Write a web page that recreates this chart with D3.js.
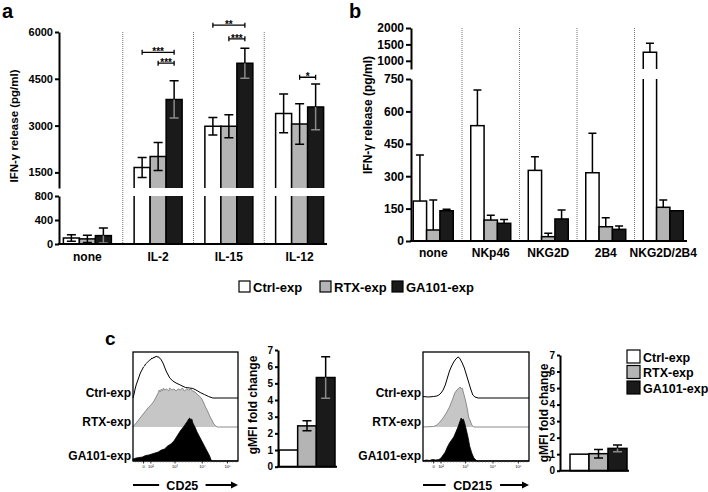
<!DOCTYPE html>
<html><head><meta charset="utf-8">
<script src="https://cdn.jsdelivr.net/npm/d3@7"></script>
<style>
body{margin:0;background:#fff}
svg{display:block;font-family:"Liberation Sans",Arial,sans-serif;font-weight:bold}
</style></head><body><svg id="c" width="708" height="492"></svg>
<script>
// ---------- DATA ----------
const seriesNames = ["Ctrl-exp","RTX-exp","GA101-exp"];
const seriesFill = ["#ffffff","#b4b4b4","#1a1a1a"];

// panel a
const catsA = ["none","IL-2","IL-15","IL-12"];
const ctrlA = [100,1660,2980,3390];
const ctrlAErr = [55,320,280,620];
const rtxA = [85,2010,2980,3050];
const rtxAErr = [60,450,370,650];
const gaA = [140,3840,5000,3600];
const gaAErr = [125,600,480,730];
const ticksALow = [0,400,800];
const ticksAUp = [1500,3000,4500,6000];
const sigA = [
  {cat:"IL-2", from:0, to:2, value:5350, label:"***"},
  {cat:"IL-2", from:1, to:2, value:5000, label:"***"},
  {cat:"IL-15", from:0, to:2, value:6220, label:"**"},
  {cat:"IL-15", from:1, to:2, value:5780, label:"***"},
  {cat:"IL-12", from:1, to:2, value:4550, label:"*"}
];

// panel b
const catsB = ["none","NKp46","NKG2D","2B4","NKG2D/2B4"];
const ctrlB = [185,534,327,316,1260];
const ctrlBErr = [213,165,63,183,275];
const rtxB = [51,97,20,66,156];
const rtxBErr = [139,22,16,42,34];
const gaB = [140,82,102,54,140];
const gaBErr = [7,18,41,15,0];
const ticksBLow = [0,150,300,450,600,750];
const ticksBUp = [1000,1500,2000];

// panel c : histograms [channel %, count]
const cd25Ctrl = [[0,0],[1,4],[2,9],[3,13],[4,16],[5,19],[6,22],[7,25],[8,27],[9,29],[10,31],[11,32],[12,34],[13,35],[14,36],[15,37],[16,38],[17,38.5],[18,40],[19,39.5],[20,41],[21,40.5],[22,42],[23,41],[24,41.5],[25,40],[26,39.5],[27,38],[28,36],[29,34],[30,31],[32,26],[35,20],[38,17],[41,15],[45,13],[50,10.5],[54,10],[57,9.5],[60,8],[64,5.5],[68,3.5],[72,1.5],[76,0],[100,0]];
const cd25Rtx = [[0,0],[3,4],[6,8],[9,12],[12,16],[15,20],[18,23],[20,26],[22,30],[24,34],[25,37],[26,35],[27,38],[28,36],[29,39],[30,37],[32,38],[34,36],[35,39],[37,37],[39,38],[41,36],[43,38],[45,37],[47,39],[49,36],[51,38],[53,37],[55,38],[57,36],[59,35],[61,33],[63,31],[65,29],[67,25],[69,20],[71,16],[73,11],[75,7],[77,3],[79,1],[80,0],[100,0]];
const cd25Ga = [[0,2],[3,3],[6,3.5],[9,4],[12,5.5],[15,6],[18,7],[21,8],[24,9],[27,11],[30,12],[33,15],[36,17],[39,20],[42,25],[45,30],[48,34],[50,37],[52,40],[53,42],[54,43],[55,41],[56,42],[57,38],[59,34],[61,29],[63,25],[65,21],[67,17],[69,13],[71,9],[73,5],[74,2],[75,0],[100,0]];
const cd215Ctrl = [[0,1.5],[5,1],[10,1.5],[13,2],[15,3],[17,5],[19,8],[21,13],[23,20],[25,27],[27,32],[29,36],[31,39],[33,41],[34,40.5],[35,39],[37,35],[39,30],[41,23],[43,16],[45,9],[47,3],[49,1],[52,0],[100,0]];
const cd215Rtx = [[0,0],[10,0.5],[13,2],[16,5],[19,9],[22,14],[25,20],[28,28],[30,34],[32,37],[34,39],[35,40],[36,38],[37,39],[38,35],[40,27],[42,17],[43,10],[45,5],[46,2],[48,0],[100,0]];
const cd215Ga = [[0,0],[3,1],[6,0.5],[9,1.5],[12,1],[15,1.5],[17,3],[19,6],[21,9],[23,14],[25,18],[27,21],[29,24],[31,29],[33,34],[35,40],[36,43],[37,41],[38,42],[39,39],[40,35],[42,26],[43,21],[44,15],[46,8],[48,3],[50,1],[51,0],[100,0]];
const histTickLabels = ["0","10²","10³","10⁴","10⁵"];
const histTickPos = [10,17,40,66,90];

// panel c : gMFI fold change
const cd25Fold = [1.0,2.45,5.35];
const cd25FoldErr = [0,0.3,1.25];
const cd215Fold = [1.0,1.03,1.35];
const cd215FoldErr = [0,0.26,0.2];
const ticksC = [0,1,2,3,4,5,6,7];

// ---------- DRAW ----------
const svg = d3.select("#c");
const SW = 1.5;
const fmt = d3.format("d");

function styleAxis(g, fs){
  g.attr("font-family",null).attr("font-size",fs).attr("font-weight","bold");
  g.selectAll("path.domain").attr("stroke-width",2).attr("stroke","#000");
  g.selectAll(".tick line").attr("stroke-width",2).attr("stroke","#000");
  g.selectAll(".tick text").attr("fill","#000");
}

function bar(g, x, w, v, fill, yFn, base, brk){
  const top = yFn(v);
  if (brk && v > brk.thresh){
    g.append("rect").attr("x",x).attr("y",brk.lowTop).attr("width",w).attr("height",base-brk.lowTop).attr("fill",fill);
    g.append("rect").attr("x",x).attr("y",top).attr("width",w).attr("height",brk.upBottom-top).attr("fill",fill);
    g.append("path").attr("fill","none").attr("stroke","#000").attr("stroke-width",SW)
      .attr("d",`M${x},${base}V${brk.lowTop}M${x+w},${brk.lowTop}V${base}M${x},${brk.upBottom}V${top}H${x+w}V${brk.upBottom}`);
  } else {
    g.append("rect").attr("x",x).attr("y",top).attr("width",w).attr("height",base-top)
      .attr("fill",fill).attr("stroke","#000").attr("stroke-width",SW);
  }
}
function errBar(g, cx, v, e, yFn, both, dark, cap){
  if (!e) return;
  const yT = yFn(v+e), yV = yFn(v);
  g.append("path").attr("fill","none").attr("stroke","#000").attr("stroke-width",SW)
    .attr("d",`M${cx},${yV}V${yT}M${cx-cap},${yT}H${cx+cap}`);
  if (both){
    const yB = yFn(v-e);
    g.append("path").attr("fill","none").attr("stroke",dark?"#8a8a8a":"#000").attr("stroke-width",SW)
      .attr("d",`M${cx},${yV}V${yB}M${cx-cap},${yB}H${cx+cap}`);
  }
}
function yLabel(g, x, y, fs){
  return g.append("text").attr("transform",`translate(${x},${y}) rotate(-90)`)
    .attr("text-anchor","middle").attr("font-size",fs);
}

// ===== Panel a =====
const gA = svg.append("g");
gA.append("text").attr("x",2).attr("y",18).attr("font-size",20).text("a");
const ayLow = d3.scaleLinear([0,800],[244,196]);
const ayUp = d3.scaleLinear([1000,6000],[188,32]);
const ay = v => v <= 900 ? ayLow(v) : ayUp(v);
const ax0 = d3.scaleBand(catsA,[52,335]);
const ax1 = d3.scaleBand([0,1,2],[0,48]);
const offA = (ax0.bandwidth()-48)/2;
const valsA = [ctrlA, rtxA, gaA], errsA = [ctrlAErr, rtxAErr, gaAErr];
const brkA = {thresh:800, lowTop:ayLow(800), upBottom:ayUp(1000)};

catsA.slice(1).forEach(c=>{
  gA.append("line").attr("x1",ax0(c)).attr("x2",ax0(c)).attr("y1",ayUp(6000)).attr("y2",ayLow(0))
    .attr("stroke","#777").attr("stroke-width",1).attr("stroke-dasharray","1,1");
});
catsA.forEach((c,i)=>{
  valsA.forEach((arr,s)=>{
    bar(gA, ax0(c)+offA+ax1(s), ax1.bandwidth(), arr[i], seriesFill[s], ay, ayLow(0), brkA);
  });
  valsA.forEach((arr,s)=>{
    errBar(gA, ax0(c)+offA+ax1(s)+ax1.bandwidth()/2, arr[i], errsA[s][i], ay, true, s===2, 4.5);
  });
});
sigA.forEach(d=>{
  const x1 = ax0(d.cat)+offA+ax1(d.from)+ax1.bandwidth()/2;
  const x2 = ax0(d.cat)+offA+ax1(d.to)+ax1.bandwidth()/2;
  const y = ay(d.value);
  gA.append("path").attr("fill","none").attr("stroke","#000").attr("stroke-width",1.3)
    .attr("d",`M${x1},${y-2.5}V${y+2.5}M${x1},${y}H${x2}M${x2},${y-2.5}V${y+2.5}`);
  gA.append("text").attr("x",(x1+x2)/2).attr("y",y+3).attr("text-anchor","middle").attr("font-size",10).text(d.label);
});
const axisAL = gA.append("g").attr("transform","translate(59,0)")
  .call(d3.axisLeft(ayLow).tickValues(ticksALow).tickFormat(fmt).tickSize(4).tickSizeOuter(0).tickPadding(2));
const axisAU = gA.append("g").attr("transform","translate(59,0)")
  .call(d3.axisLeft(ayUp).tickValues(ticksAUp).tickFormat(fmt).tickSize(4).tickSizeOuter(0).tickPadding(2));
styleAxis(axisAL,11); styleAxis(axisAU,11);
gA.append("line").attr("x1",58).attr("x2",327).attr("y1",ayLow(0)).attr("y2",ayLow(0)).attr("stroke","#000").attr("stroke-width",2);
catsA.forEach(c=>{
  gA.append("text").attr("x",ax0(c)+ax0.bandwidth()/2).attr("y",261).attr("text-anchor","middle").attr("font-size",12).text(c);
});
yLabel(gA,17.5,126,11.5).text("IFN-γ release (pg/ml)");

// ===== Panel b =====
const gB = svg.append("g");
gB.append("text").attr("x",349).attr("y",18).attr("font-size",20).text("b");
const byLow = d3.scaleLinear([0,750],[241,79]);
const byUp = d3.scaleLinear([750,2000],[69,28]);
const by = v => v <= 750 ? byLow(v) : byUp(v);
const bx0 = d3.scaleBand(catsB,[404.5,692]);
const bx1 = d3.scaleBand([0,1,2],[0,40]);
const offB = (bx0.bandwidth()-40)/2;
const valsB = [ctrlB, rtxB, gaB], errsB = [ctrlBErr, rtxBErr, gaBErr];
const brkB = {thresh:750, lowTop:byLow(750), upBottom:byUp(750)};
catsB.slice(1).forEach(c=>{
  gB.append("line").attr("x1",bx0(c)).attr("x2",bx0(c)).attr("y1",byUp(2000)).attr("y2",byLow(0))
    .attr("stroke","#777").attr("stroke-width",1).attr("stroke-dasharray","1,1");
});
catsB.forEach((c,i)=>{
  valsB.forEach((arr,s)=>{
    bar(gB, bx0(c)+offB+bx1(s), bx1.bandwidth(), arr[i], seriesFill[s], by, byLow(0), brkB);
  });
  valsB.forEach((arr,s)=>{
    errBar(gB, bx0(c)+offB+bx1(s)+bx1.bandwidth()/2, arr[i], errsB[s][i], by, false, false, 4);
  });
});
const axisBL = gB.append("g").attr("transform","translate(411,0)")
  .call(d3.axisLeft(byLow).tickValues(ticksBLow).tickFormat(fmt).tickSize(5).tickSizeOuter(0).tickPadding(2));
const axisBU = gB.append("g").attr("transform","translate(411,0)")
  .call(d3.axisLeft(byUp).tickValues(ticksBUp).tickFormat(fmt).tickSize(5).tickSizeOuter(0).tickPadding(2));
styleAxis(axisBL,12); styleAxis(axisBU,12);
gB.append("line").attr("x1",410).attr("x2",687).attr("y1",byLow(0)).attr("y2",byLow(0)).attr("stroke","#000").attr("stroke-width",2);
catsB.forEach(c=>{
  gB.append("text").attr("x",bx0(c)+bx0.bandwidth()/2).attr("y",257).attr("text-anchor","middle").attr("font-size",12).text(c);
});
yLabel(gB,372,115,12).text("IFN-γ release (pg/ml)");

// ===== main legend =====
const legMain = svg.append("g");
const legX = [239,320,392];
seriesNames.forEach((n,s)=>{
  legMain.append("rect").attr("x",legX[s]).attr("y",281).attr("width",11).attr("height",11)
    .attr("fill",seriesFill[s]).attr("stroke","#000").attr("stroke-width",1.2);
  legMain.append("text").attr("x",legX[s]+14).attr("y",291.5).attr("font-size",13).text(n);
});

// ===== Panel c =====
const gC = svg.append("g");
gC.append("text").attr("x",105).attr("y",345).attr("font-size",19).text("c");

const laneBase = [398,427,461];
function histogram(x0, x1, data, marker){
  const g = gC.append("g");
  const hx = d3.scaleLinear([0,100],[x0,x1]);
  const hy = d3.scaleLinear([0,50],[0,50]);
  const [ctrl, rtx, ga] = data;
  const area = base => d3.area().x(d=>hx(d[0])).y0(base).y1(d=>base-hy(d[1]));
  const line = base => d3.line().x(d=>hx(d[0])).y(d=>base-hy(d[1]));
  g.append("path").datum(rtx).attr("d",area(laneBase[1])).attr("fill","#c6c6c6");
  g.append("path").datum(rtx).attr("d",line(laneBase[1])).attr("fill","none").attr("stroke","#8c8c8c").attr("stroke-width",1);
  g.append("path").datum(ga).attr("d",area(laneBase[2])).attr("fill","#000").attr("stroke","#000").attr("stroke-width",0.8);
  g.append("path").datum(ctrl).attr("d",line(laneBase[0])).attr("fill","none").attr("stroke","#000").attr("stroke-width",1);
  g.append("rect").attr("x",x0).attr("y",352).attr("width",x1-x0).attr("height",461-352)
    .attr("fill","none").attr("stroke","#000").attr("stroke-width",1.3);
  histTickPos.forEach((p,i)=>{
    g.append("line").attr("x1",hx(p)).attr("x2",hx(p)).attr("y1",461).attr("y2",463.5).attr("stroke","#000").attr("stroke-width",0.8);
    g.append("text").attr("x",hx(p)).attr("y",468).attr("text-anchor","middle").attr("font-size",4).attr("font-weight","normal").text(histTickLabels[i]);
  });
  d3.range(2,100,3).forEach(p=>{
    g.append("line").attr("x1",hx(p)).attr("x2",hx(p)).attr("y1",461).attr("y2",462.5).attr("stroke","#555").attr("stroke-width",0.6);
  });
  seriesNames.forEach((n,s)=>{
    g.append("text").attr("x",x0-2).attr("y",laneBase[s]-1).attr("text-anchor","end").attr("font-size",12).text(n);
  });
  const ym = 485;
  const tw = marker.length*8.1;
  const mid = hx(47);
  g.append("line").attr("x1",x0).attr("x2",mid-tw/2-7).attr("y1",ym).attr("y2",ym).attr("stroke","#000").attr("stroke-width",2);
  g.append("text").attr("x",mid).attr("y",489.5).attr("text-anchor","middle").attr("font-size",12.5).text(marker);
  g.append("line").attr("x1",mid+tw/2+7).attr("x2",x1-4).attr("y1",ym).attr("y2",ym).attr("stroke","#000").attr("stroke-width",2);
  g.append("path").attr("d",`M${x1},${ym}L${x1-7},${ym-3.5}L${x1-7},${ym+3.5}Z`).attr("fill","#000");
}
histogram(133,238,[cd25Ctrl,cd25Rtx,cd25Ga],"CD25");
histogram(423,529,[cd215Ctrl,cd215Rtx,cd215Ga],"CD215");

function foldChart(axisX, bx0, bx1, yTop, yBot, vals, errs, labelX, labelY){
  const g = gC.append("g");
  const cy = d3.scaleLinear([0,7],[yBot,yTop]);
  const cx = d3.scaleBand([0,1,2],[bx0,bx1]);
  vals.forEach((v,s)=>{
    bar(g, cx(s), cx.bandwidth(), v, seriesFill[s], cy, cy(0), null);
  });
  vals.forEach((v,s)=>{
    errBar(g, cx(s)+cx.bandwidth()/2, v, errs[s], cy, true, s===2, 4.5);
  });
  const ax = g.append("g").attr("transform",`translate(${axisX},0)`)
    .call(d3.axisLeft(cy).tickValues(ticksC).tickFormat(fmt).tickSize(3).tickSizeOuter(0).tickPadding(2));
  styleAxis(ax,10);
  g.append("line").attr("x1",axisX-1).attr("x2",bx1+2).attr("y1",cy(0)).attr("y2",cy(0)).attr("stroke","#000").attr("stroke-width",2);
  yLabel(g,labelX,labelY,12).text("gMFI fold change");
}
foldChart(278,279,335,350,466.7,cd25Fold,cd25FoldErr,257,405);
foldChart(560,570,627,355,470.7,cd215Fold,cd215FoldErr,548,413);

const legC = svg.append("g");
const legCY = [350,365.5,381];
seriesNames.forEach((n,s)=>{
  legC.append("rect").attr("x",627).attr("y",legCY[s]).attr("width",13).attr("height",13)
    .attr("fill",seriesFill[s]).attr("stroke","#000").attr("stroke-width",1.2);
  legC.append("text").attr("x",643).attr("y",legCY[s]+11.5).attr("font-size",12.5).text(n);
});
</script></body></html>
